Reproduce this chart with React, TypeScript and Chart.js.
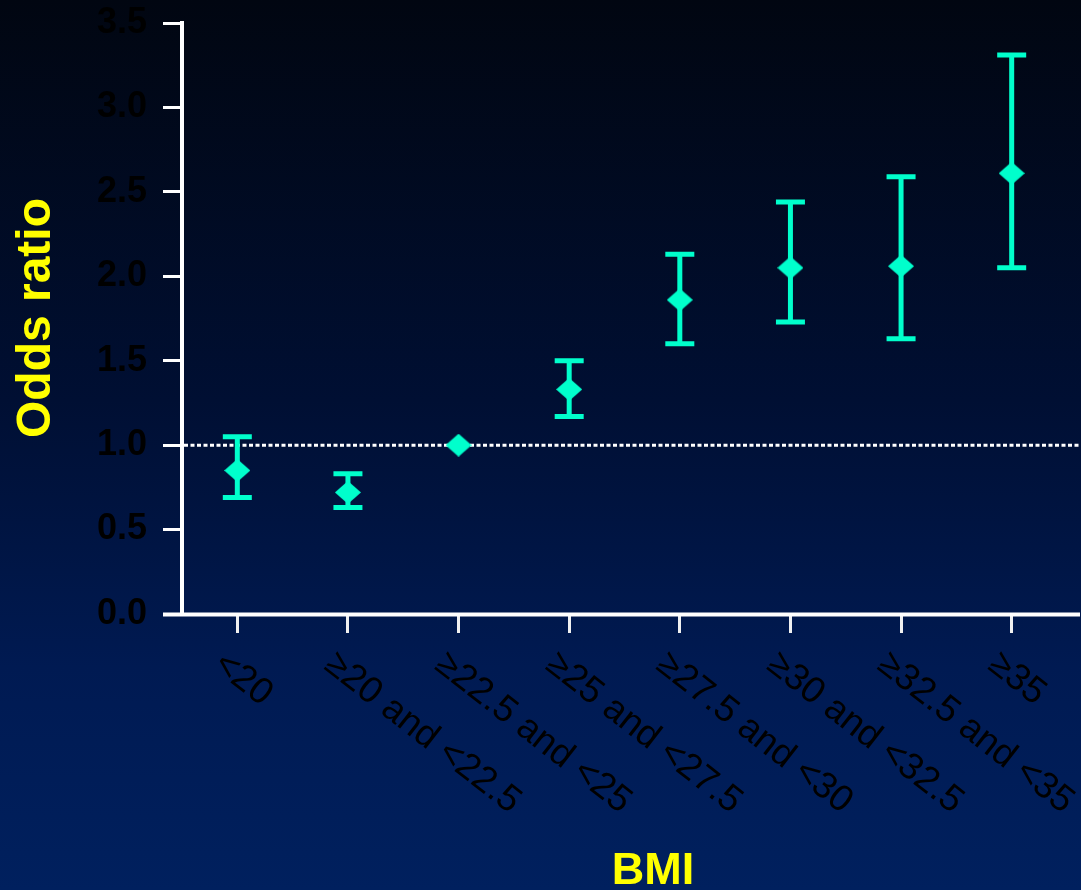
import React, { useEffect, useRef } from "react";
import { Chart, registerables } from "chart.js";

Chart.register(...registerables);

const categories = [
  "<20",
  "≥20 and <22.5",
  "≥22.5 and <25",
  "≥25 and <27.5",
  "≥27.5 and <30",
  "≥30 and <32.5",
  "≥32.5 and <35",
  "≥35",
];
const oddsRatio = [0.85, 0.72, 1.0, 1.33, 1.86, 2.05, 2.06, 2.61];
const ciLower: (number | null)[] = [0.69, 0.63, null, 1.17, 1.6, 1.73, 1.63, 2.05];
const ciUpper: (number | null)[] = [1.05, 0.83, null, 1.5, 2.13, 2.44, 2.59, 3.31];
const yMin = 0;
const yMax = 3.5;
const yStep = 0.5;
const referenceValue = 1.0;
const xTitle = "BMI";
const yTitle = "Odds ratio";

const W = 1081;
const H = 890;
const MARK = "#00ffcc";
const FONT = '"Liberation Sans", Arial, Helvetica, sans-serif';

function makeDiamond(): HTMLCanvasElement {
  const c = document.createElement("canvas");
  c.width = 26;
  c.height = 23;
  const g = c.getContext("2d")!;
  g.fillStyle = MARK;
  g.beginPath();
  g.moveTo(13, 0);
  g.lineTo(26, 11.5);
  g.lineTo(13, 23);
  g.lineTo(0, 11.5);
  g.closePath();
  g.fill();
  return c;
}

const errorBarPlugin = {
  id: "errorBars",
  beforeDatasetsDraw(chart: any) {
    const { ctx } = chart;
    const xs = chart.scales.x;
    const ys = chart.scales.y;
    ctx.save();
    // reference dotted line
    ctx.strokeStyle = "#ffffff";
    ctx.lineWidth = 3;
    ctx.setLineDash([4, 2.5]);
    const yr = ys.getPixelForValue(referenceValue);
    ctx.beginPath();
    ctx.moveTo(chart.chartArea.left + 2, yr);
    ctx.lineTo(W, yr);
    ctx.stroke();
    ctx.setLineDash([]);
    // error bars
    ctx.strokeStyle = MARK;
    ctx.lineCap = "butt";
    for (let i = 0; i < categories.length; i++) {
      const lo = ciLower[i];
      const hi = ciUpper[i];
      if (lo == null || hi == null) continue;
      const x = xs.getPixelForValue(i);
      const y1 = ys.getPixelForValue(lo);
      const y2 = ys.getPixelForValue(hi);
      ctx.lineWidth = 5;
      ctx.beginPath();
      ctx.moveTo(x, y1);
      ctx.lineTo(x, y2);
      ctx.stroke();
      ctx.beginPath();
      ctx.moveTo(x - 14.5, y1);
      ctx.lineTo(x + 14.5, y1);
      ctx.moveTo(x - 14.5, y2);
      ctx.lineTo(x + 14.5, y2);
      ctx.stroke();
    }
    ctx.restore();
  },
  afterDraw(chart: any) {
    const { ctx, chartArea } = chart;
    const xs = chart.scales.x;
    ctx.save();
    // x axis line
    ctx.strokeStyle = "#ffffff";
    ctx.lineWidth = 4;
    ctx.beginPath();
    ctx.moveTo(163, chartArea.bottom + 0.5);
    ctx.lineTo(W - 1, chartArea.bottom + 0.5);
    ctx.stroke();
    // x tick labels rotated
    ctx.fillStyle = "#000000";
    ctx.font = `37px ${FONT}`;
    ctx.textAlign = "left";
    ctx.textBaseline = "middle";
    const ang = (38 * Math.PI) / 180;
    for (let i = 0; i < categories.length; i++) {
      const x = xs.getPixelForTick(i);
      ctx.save();
      ctx.translate(x - 19, chartArea.bottom + 46);
      ctx.rotate(ang);
      ctx.fillText(categories[i], 0, 0);
      ctx.restore();
    }
    // titles
    ctx.fillStyle = "#ffff00";
    ctx.font = `bold 45px ${FONT}`;
    ctx.textAlign = "center";
    ctx.textBaseline = "alphabetic";
    ctx.fillText(xTitle, 653, 884);
    ctx.save();
    ctx.translate(50, 318);
    ctx.rotate(-Math.PI / 2);
    ctx.font = `bold 48px ${FONT}`;
    ctx.fillText(yTitle, 0, 0);
    ctx.restore();
    ctx.restore();
  },
};

export default function App() {
  const ref = useRef<HTMLCanvasElement | null>(null);
  useEffect(() => {
    document.body.style.margin = "0";
    document.body.style.overflow = "hidden";
    const canvas = ref.current!;
    const diamond = makeDiamond();
    const chart = new Chart(canvas, {
      type: "line",
      data: {
        labels: categories,
        datasets: [
          {
            data: oddsRatio,
            showLine: false,
            pointStyle: diamond as any,
            pointRadius: 13,
            pointBackgroundColor: MARK,
            pointBorderColor: MARK,
          },
        ],
      },
      options: {
        responsive: false,
        animation: false,
        devicePixelRatio: 1,
        layout: { padding: { top: 23, right: 8, left: 0, bottom: 0 } },
        plugins: {
          legend: { display: false },
          tooltip: { enabled: false },
          title: { display: false },
        },
        scales: {
          x: {
            type: "category",
            offset: true,
            ticks: { display: false },
            grid: {
              display: true,
              offset: false,
              drawOnChartArea: false,
              drawTicks: true,
              tickLength: 19,
              color: "#f0f0f0",
              lineWidth: 3,
            },
            border: { display: false },
            afterFit(scale: any) {
              scale.height = H - 614;
              scale.paddingLeft = 0;
              scale.paddingRight = 0;
            },
          },
          y: {
            type: "linear",
            min: yMin,
            max: yMax,
            ticks: {
              stepSize: yStep,
              color: "#000000",
              padding: 16,
              font: { family: FONT, size: 36, weight: "bold" },
              callback: (v: any) => Number(v).toFixed(1),
            },
            grid: {
              display: true,
              drawOnChartArea: false,
              drawTicks: true,
              tickLength: 19,
              color: "#ffffff",
              lineWidth: 3,
            },
            border: { display: true, color: "#ffffff", width: 4 },
            afterFit(scale: any) {
              scale.width = 182;
              scale.paddingTop = 0;
              scale.paddingBottom = 0;
            },
          },
        },
      },
      plugins: [errorBarPlugin],
    });
    return () => chart.destroy();
  }, []);
  return (
    <div
      style={{
        position: "absolute",
        left: 0,
        top: 0,
        width: W,
        height: H,
        background: "linear-gradient(to bottom, #010611 0%, #000f33 45%, #001a52 75%, #00205e 100%)",
      }}
    >
      <canvas ref={ref} width={W} height={H} style={{ display: "block" }} />
    </div>
  );
}
